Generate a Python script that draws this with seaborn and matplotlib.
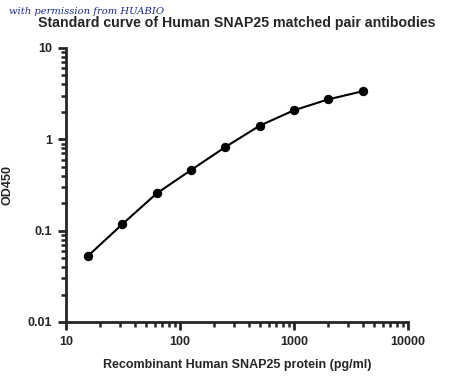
import matplotlib
matplotlib.use("Agg")
import matplotlib.pyplot as plt
import seaborn as sns
import pandas as pd
from matplotlib.ticker import LogLocator, FixedLocator, FixedFormatter, NullFormatter

conc = [15.625, 31.25, 62.5, 125, 250, 500, 1000, 2000, 4000]
od450 = [0.053, 0.118, 0.256, 0.461, 0.824, 1.41, 2.08, 2.74, 3.36]
x_ticks = [10, 100, 1000, 10000]
x_tick_labels = ["10", "100", "1000", "10000"]
y_ticks = [0.01, 0.1, 1, 10]
y_tick_labels = ["0.01", "0.1", "1", "10"]

sns.set_style("ticks")
plt.rcParams["font.family"] = ["Liberation Sans", "DejaVu Sans"]
plt.rcParams["font.weight"] = "bold"

df = pd.DataFrame({"conc": conc, "od": od450})

fig = plt.figure(figsize=(4.5, 3.8), dpi=100)
ax = fig.add_axes([66/450, 1-322/380, (408-66)/450, (322-48)/380])
sns.lineplot(data=df, x="conc", y="od", ax=ax, color="black", linewidth=1.5,
             marker="o", markersize=6, markeredgecolor="black", markerfacecolor="black")
ax.set_xscale("log")
ax.set_yscale("log")
ax.set_xlim(10, 10000)
ax.set_ylim(0.01, 10)
ax.xaxis.set_major_locator(FixedLocator(x_ticks))
ax.xaxis.set_major_formatter(FixedFormatter(x_tick_labels))
ax.yaxis.set_major_locator(FixedLocator(y_ticks))
ax.yaxis.set_major_formatter(FixedFormatter(y_tick_labels))
ax.xaxis.set_minor_locator(LogLocator(base=10, subs=range(2, 10)))
ax.yaxis.set_minor_locator(LogLocator(base=10, subs=range(2, 10)))
ax.xaxis.set_minor_formatter(NullFormatter())
ax.yaxis.set_minor_formatter(NullFormatter())
for s in ["top", "right"]:
    ax.spines[s].set_visible(False)
for s in ["left", "bottom"]:
    ax.spines[s].set_linewidth(2)
ax.tick_params(which="major", length=6, width=2, labelsize=9, pad=4)
ax.tick_params(which="minor", length=3.5, width=1.8)
ax.set_xlabel("Recombinant Human SNAP25 protein (pg/ml)", fontsize=9, fontweight="bold", labelpad=8)
ax.set_ylabel("OD450", fontsize=9, fontweight="bold", labelpad=10)

fig.text(237/450, 1-23/380, "Standard curve of Human SNAP25 matched pair antibodies",
         ha="center", va="center", fontsize=10.2, fontweight="bold")
fig.text(0.02, 1-11/380, "with permission from HUABIO", ha="left", va="center",
         fontsize=7.2, style="italic", fontweight="normal", family=["DejaVu Serif"], color="#1a2a8a")

fig.savefig("out.png", dpi=100)
